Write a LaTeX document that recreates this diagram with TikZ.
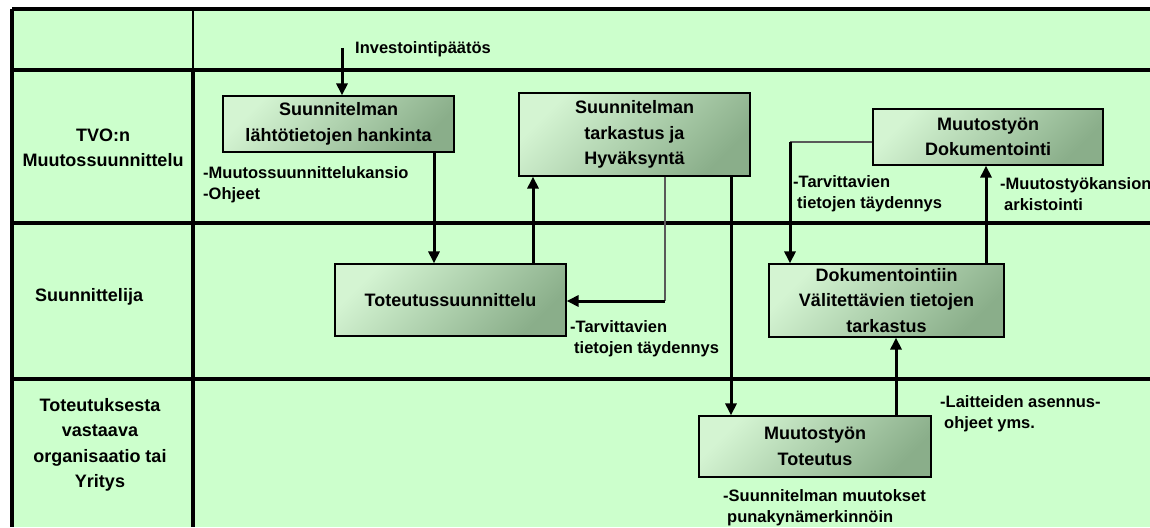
\documentclass[tikz,border=0pt]{standalone}
\usepackage{fontspec}
\setmainfont{Liberation Sans}
\usetikzlibrary{arrows.meta}
\usetikzlibrary{calc}

\definecolor{lanegreen}{HTML}{CCFFCC}
\definecolor{boxlight}{HTML}{D4F4D2}
\definecolor{boxdark}{HTML}{8AAE8A}

\begin{document}
\begin{tikzpicture}[x=1pt, y=-1pt,
    lane/.style={line width=3.8pt},
    task/.style={draw, line width=1.2pt, top color=boxlight, bottom color=boxdark, shading angle=45,
                 align=center, inner sep=0pt, font=\fontsize{18}{25.5}\selectfont\bfseries},
    flow/.style={-{Triangle[length=12pt,width=11pt]}, line width=3pt},
    feed/.style={line width=1.4pt, black!65},
    note/.style={anchor=north west, align=left, inner sep=0pt, font=\fontsize{16.5}{21.5}\selectfont\bfseries},
    role/.style={align=center, inner sep=0pt, font=\fontsize{18}{25.5}\selectfont\bfseries}]

  \useasboundingbox (0,0) rectangle (1150,527);

 %swimlanes
    \fill[lanegreen] (12,9) rectangle (1150,527);
    \foreach \y in {9, 70, 223, 379} {
         \draw[lane] (12,\y) -- (1150,\y);
    }
    \draw[lane] (12,9) -- (12,527);
    \draw[line width=2.2pt] (193,9) -- (193,70);
    \draw[lane] (193,70) -- (193,527);

 %roles
    \node[role] (tvo) at (103,148) {TVO:n\\Muutossuunnittelu};
    \node[role] (designer) at (89,297) {Suunnittelija};
    \node[role] (contractor) at (100,445) {Toteutuksesta\\vastaava\\organisaatio tai\\Yritys};

 %boxes
    \foreach \name/\x/\y/\w/\h/\txt in {
         start/338.5/124/231/56/{Suunnitelman\\lähtötietojen hankinta},
         review/634.5/134.5/231/83/{Suunnitelman\\tarkastus ja\\Hyväksyntä},
         impl/450.5/300/231/72/{Toteutussuunnittelu},
         docu/988/137/230/56/{Muutostyön\\Dokumentointi},
         check/886.5/300.5/235/73/{Dokumentointiin\\Välitettävien tietojen\\tarkastus},
         build/815/446.5/232/61/{Muutostyön\\Toteutus}} {
         \node[task, minimum width=\w pt, minimum height=\h pt] (\name) at (\x,\y) {\txt};
    }

 %arrows
    \coordinate (inv) at (342,48);
    \draw[flow] (inv) -- (inv |- start.north);
    \draw[flow] (start.south -| 434,0) -- (impl.north -| 434,0);
    \draw[flow] (impl.north -| 533,0) -- (review.south -| 533,0);
    \coordinate (back1) at (665,301);
    \draw[feed] (review.south -| back1) -- (back1);
    \draw[flow] (back1) -- (impl.east |- back1);
    \draw[flow] (review.south -| 731,0) -- (build.north -| 731,0);
    \draw[flow] (build.north -| 896,0) -- (check.south -| 896,0);
    \coordinate (back2) at (790,142);
    \draw[feed] (docu.west |- back2) -- (back2);
    \draw[flow] (back2) -- (check.north -| back2);
    \draw[flow] (check.north -| 986,0) -- (docu.south -| 986,0);

 %notes
    \node[note] (invnote) at (355,41) {Investointipäätös};
    \node[note] (inputs) at (203,166) {-Muutossuunnittelukansio\\-Ohjeet};
    \node[note] (fill1) at (570,320) {-Tarvittavien\\\hspace*{4pt}tietojen täydennys};
    \node[note] (fill2) at (793,175) {-Tarvittavien\\\hspace*{4pt}tietojen täydennys};
    \node[note] (archive) at (1000,177) {-Muutostyökansion\\\hspace*{4pt}arkistointi};
    \node[note] (manuals) at (940,395) {-Laitteiden asennus-\\\hspace*{4pt}ohjeet yms.};
    \node[note] (redline) at (723,489) {-Suunnitelman muutokset\\\hspace*{4pt}punakynämerkinnöin};

\end{tikzpicture}
\end{document}
